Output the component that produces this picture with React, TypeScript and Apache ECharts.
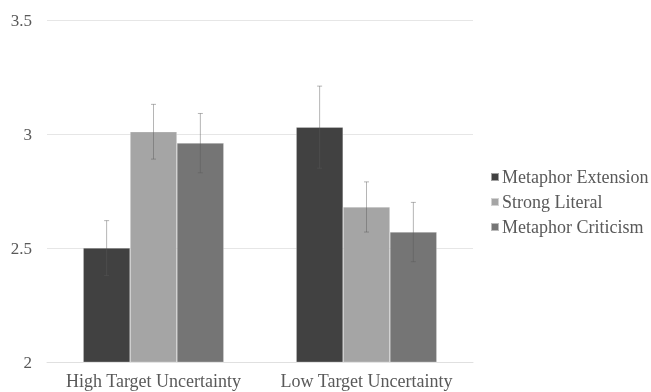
import React, { useEffect, useRef } from "react";
import * as echarts from "echarts";

const categories = ["High Target Uncertainty", "Low Target Uncertainty"];
const seriesNames = ["Metaphor Extension", "Strong Literal", "Metaphor Criticism"];
const metaphorExtension = [2.5, 3.03];
const strongLiteral = [3.01, 2.68];
const metaphorCriticism = [2.96, 2.57];
const errExtension = [0.12, 0.18];
const errLiteral = [0.12, 0.11];
const errCriticism = [0.13, 0.13];
const yTicks = { min: 2, max: 3.5, interval: 0.5 };

const colors = ["#414141", "#a5a5a5", "#757575"];
const FONT = "serif";

export default function App() {
  const ref = useRef<HTMLDivElement>(null);
  useEffect(() => {
    if (!ref.current) return;
    const chart = echarts.init(ref.current, undefined, { renderer: "svg" });
    const values = [metaphorExtension, strongLiteral, metaphorCriticism];
    const errs = [errExtension, errLiteral, errCriticism];
    const nS = values.length;
    const barSeries = values.map((v, i) => ({
      name: seriesNames[i],
      type: "bar",
      data: v,
      barGap: "0%",
      barCategoryGap: "34%",
      itemStyle: { color: colors[i], borderColor: "rgba(255,255,255,0.5)", borderWidth: 0.5 },
      z: 2,
    }));
    const errData: number[][] = [];
    values.forEach((v, si) => {
      v.forEach((val, ci) => {
        errData.push([ci, val - errs[si][ci], val + errs[si][ci], si]);
      });
    });
    const errSeries = {
      type: "custom",
      name: "err",
      data: errData,
      z: 10,
      renderItem: (params: any, api: any) => {
        const ci = api.value(0);
        const si = api.value(3);
        const lowP = api.coord([ci, api.value(1)]);
        const highP = api.coord([ci, api.value(2)]);
        const bandW = api.size([1, 0])[0];
        const groupW = bandW * (1 - 0.34);
        const barW = groupW / nS;
        const x = lowP[0] - groupW / 2 + barW * (si + 0.5);
        const cap = 2.5;
        const style = { stroke: "rgba(90,90,90,0.45)", lineWidth: 1 };
        return {
          type: "group",
          children: [
            { type: "line", shape: { x1: x, y1: lowP[1], x2: x, y2: highP[1] }, style },
            { type: "line", shape: { x1: x - cap, y1: lowP[1], x2: x + cap, y2: lowP[1] }, style },
            { type: "line", shape: { x1: x - cap, y1: highP[1], x2: x + cap, y2: highP[1] }, style },
          ],
        };
      },
    };
    chart.setOption({
      animation: false,
      textStyle: { fontFamily: FONT },
      grid: { left: 47, right: 178, top: 20, bottom: 30, containLabel: false },
      legend: {
        data: seriesNames,
        orient: "vertical",
        left: 485,
        top: 163,
        icon: "rect",
        itemWidth: 8,
        itemHeight: 8,
        itemGap: 7,
        textStyle: { fontFamily: FONT, fontSize: 18, color: "#595959", padding: [0, 0, 0, -2] },
      },
      xAxis: {
        type: "category",
        data: categories,
        axisLine: { lineStyle: { color: "#e0e0e0", width: 1 } },
        axisTick: { show: false },
        axisLabel: { fontFamily: FONT, fontSize: 18, color: "#595959", margin: 10, interval: 0 },
      },
      yAxis: {
        type: "value",
        min: yTicks.min,
        max: yTicks.max,
        interval: yTicks.interval,
        axisLine: { show: false },
        axisTick: { show: false },
        splitLine: { lineStyle: { color: "#e6e6e6", width: 1 } },
        axisLabel: { fontFamily: FONT, fontSize: 17, color: "#595959", margin: 15 },
      },
      series: [...barSeries, errSeries],
    });
    return () => chart.dispose();
  }, []);
  return (
    <div
      ref={ref}
      style={{ position: "fixed", left: 0, top: 0, width: 651, height: 392 }}
    />
  );
}
